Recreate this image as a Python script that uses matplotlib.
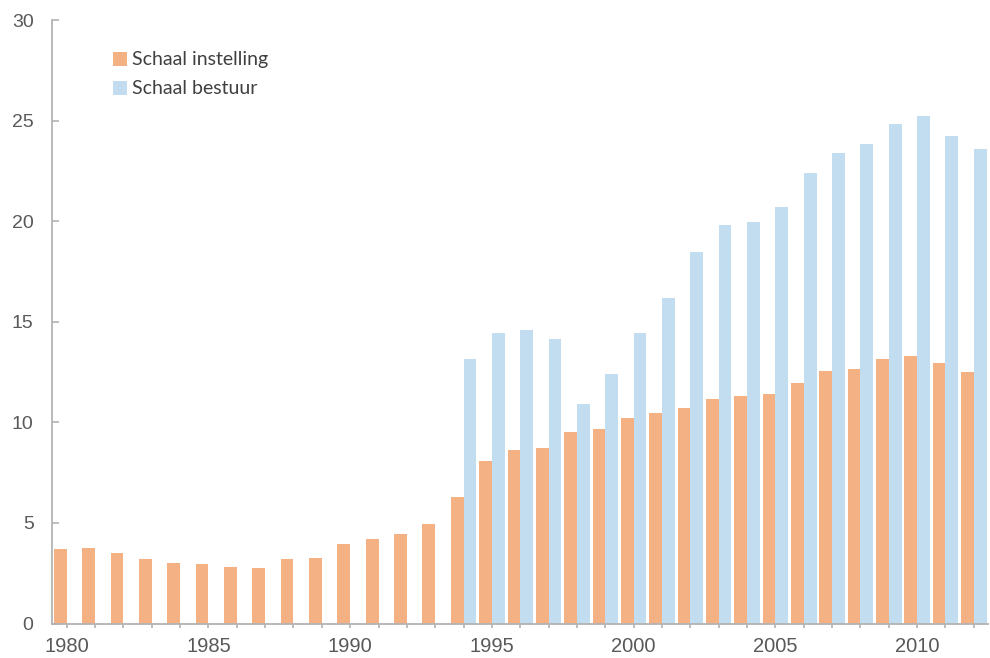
import numpy as np
import matplotlib
matplotlib.use('Agg')
import matplotlib.pyplot as plt

# Jaren en waarden per reeks
years = list(range(1980, 2013))
instelling = [3.70, 3.77, 3.49, 3.19, 3.02, 2.94, 2.81, 2.77, 3.19, 3.24,
              3.94, 4.20, 4.45, 4.95, 6.30, 8.08, 8.64, 8.71, 9.53, 9.67,
              10.22, 10.47, 10.71, 11.16, 11.29, 11.41, 11.94, 12.54, 12.66, 13.16,
              13.28, 12.95, 12.52]
bestuur_years = list(range(1994, 2013))
bestuur = [13.16, 14.42, 14.59, 14.14, 10.89, 12.42, 14.43, 16.16, 18.46, 19.81,
           19.94, 20.69, 22.41, 23.40, 23.82, 24.83, 25.22, 24.23, 23.59]

orange = '#F4B183'
blue = '#C3DDF0'
grey = '#B3B3B3'
txt = '#595959'

plt.rcParams['font.family'] = 'Liberation Sans'

fig = plt.figure(figsize=(9.9, 6.58), dpi=100)
ax = fig.add_axes([0.0522, 0.0524, 0.9458, 0.9172])

w = 0.45
ax.bar(np.array(years) - w / 2, instelling, width=w, color=orange, label='Schaal instelling')
ax.bar(np.array(bestuur_years) + w / 2, bestuur, width=w, color=blue, label='Schaal bestuur')

ax.set_xlim(1979.47, 2012.5)
ax.set_ylim(0, 30)
ax.set_yticks(range(0, 31, 5))
ax.set_xticks(years, minor=True)
ax.set_xticks(range(1980, 2013, 5))

for s in ['top', 'right']:
    ax.spines[s].set_visible(False)
for s in ['left', 'bottom']:
    ax.spines[s].set_color(grey)
    ax.spines[s].set_linewidth(1.3)

ax.tick_params(axis='y', direction='in', length=5, width=1.2, color=grey,
               pad=13, labelsize=14, labelcolor=txt)
ax.tick_params(axis='x', which='both', direction='out', length=3, width=1.2,
               color=grey, pad=7, labelsize=14.5, labelcolor=txt)

leg = ax.legend(loc='upper left', bbox_to_anchor=(0.047, 0.977), frameon=False,
                prop={'family': 'Lato', 'size': 14}, handlelength=0.72,
                handleheight=0.72, handletextpad=0.25, labelspacing=0.62)
for t in leg.get_texts():
    t.set_color('#404040')

fig.savefig('out.png', dpi=100)
